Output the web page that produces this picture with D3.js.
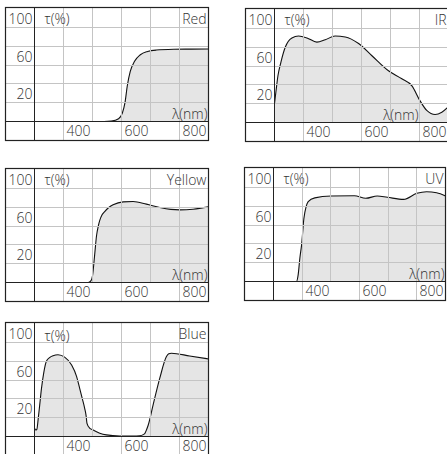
<!DOCTYPE html>
<html>
<head>
<meta charset="utf-8">
<script src="https://cdn.jsdelivr.net/npm/d3@7"></script>
<style>
body{margin:0;background:#fff}
svg{display:block}
text{font-family:"Open Sans",sans-serif;font-size:14px;font-weight:300;fill:#333}
</style>
</head>
<body>
<svg id="chart" width="447" height="454"></svg>
<script>
'use strict';

var yTicks=[20,40,60,80,100]
  , yLabels=[20,60,100]
  , xTicks=[400,500,600,700,800]
  , xLabels=[400,600,800]

// transmission curves, wavelength (nm) / tau (%)
var redNm=[300,450,540,565,590,603,612,620,630,645,665,690,720,780,840,900]
  , redPct=[0,0,0,0.5,3,9,20,38,53,64,71,74.5,76,76.8,77,77.2]

var irNm=[300,305,312,322,337,360,383,412,446,475,509,544,590,636,693,739,774,802,825,854,877,900]
  , irPct=[20,33,50,64,80,90,92,90,85.5,88,92,91,84,71,55,46.5,39,23,12.8,8.5,11,17]

var yellowNm=[300,470,485,495,500,507,514,520,525,533,542,555,571,606,640,686,732,770,801,847,900]
  , yellowPct=[0,0,0,2,7,28,50,60,66,72,75.5,79.5,82.6,85.8,86.2,83.4,79.8,77.8,77.3,78,80.5]

var uvNm=[300,370,380,386,392,398,406,414,421,444,501,582,622,662,697,754,800,834,869,900]
  , uvPct=[0,0,0,7,25,39,67,80,85,89,91,91.3,88.5,91,89.6,87.4,93.8,95.5,94.5,91]

var blueNm=[300,304,308,313,318,324,332,341,352,364,381,404,428,445,456,465,473,478,481,490,502,525,548,594,640,663,675,681,686,692,709,732,755,763,772,835,900]
  , bluePct=[9,7,7.5,19.5,33.6,51,68,80,84,86,87,84.4,76,64,51,40,30,22,14,9,7,3.5,1.7,0.6,0.5,0.8,2,3.5,7,12,33.6,62,85,88,88.6,85.7,82.5]

var panels=[
    {name:'Red',nm:redNm,pct:redPct,left:5,top:7,w:174,lambdaAt:900}
  , {name:'IR',nm:irNm,pct:irPct,left:245,top:8,w:174,lambdaAt:800}
  , {name:'Yellow',nm:yellowNm,pct:yellowPct,left:5,top:168,w:174,lambdaAt:900}
  , {name:'UV',nm:uvNm,pct:uvPct,left:244,top:167,w:172,lambdaAt:900}
  , {name:'Blue',nm:blueNm,pct:bluePct,left:5,top:322,w:174,lambdaAt:900}
]

var svg=d3.select('#chart')
  , labelW=29
  , plotH=114
  , stripH=19
  , grid='#c4c4c4'
  , ink='#222'

panels.forEach(function(p,i){
    var g=svg.append('g').attr('transform','translate('+(p.left+0.5)+','+(p.top+0.5)+')')
      , x=d3.scaleLinear().domain([300,900]).range([labelW,labelW+p.w])
      , y=d3.scaleLinear().domain([0,100]).range([plotH,plotH-94])
      , right=labelW+p.w
      , pts=p.nm.map(function(d,j){return [d,p.pct[j]]})

    g.append('clipPath').attr('id','clip'+i)
        .append('rect')
        .attr('x',labelW).attr('y',0)
        .attr('width',p.w).attr('height',plotH);

    var plot=g.append('g').attr('clip-path','url(#clip'+i+')');

    plot.append('path')
        .datum(pts)
        .attr('fill','#e5e5e5')
        .attr('d',d3.area()
            .x(function(d){return x(d[0])})
            .y0(y(0))
            .y1(function(d){return y(d[1])})
            .curve(d3.curveMonotoneX));

    // grid
    g.selectAll('.hgrid').data(yTicks).enter()
        .append('line')
        .attr('x1',0).attr('x2',right)
        .attr('y1',function(d){return Math.round(y(d))})
        .attr('y2',function(d){return Math.round(y(d))})
        .attr('stroke',grid);
    g.selectAll('.vgrid').data(xTicks).enter()
        .append('line')
        .attr('x1',function(d){return Math.round(x(d))})
        .attr('x2',function(d){return Math.round(x(d))})
        .attr('y1',0)
        .attr('y2',function(d){return xLabels.indexOf(d)>=0?plotH+stripH:plotH})
        .attr('stroke',grid);

    plot.append('path')
        .datum(pts)
        .attr('fill','none')
        .attr('stroke','#111')
        .attr('stroke-width',1.1)
        .attr('d',d3.line()
            .x(function(d){return x(d[0])})
            .y(function(d){return y(d[1])})
            .curve(d3.curveMonotoneX));

    // frame, divider and axis
    g.append('rect')
        .attr('x',0).attr('y',0)
        .attr('width',right).attr('height',plotH+stripH)
        .attr('fill','none')
        .attr('stroke',ink)
        .attr('stroke-width',1.2);
    g.append('line')
        .attr('x1',labelW).attr('x2',labelW)
        .attr('y1',0).attr('y2',plotH+stripH)
        .attr('stroke',ink);
    g.append('line')
        .attr('x1',0).attr('x2',right)
        .attr('y1',plotH).attr('y2',plotH)
        .attr('stroke',ink);

    g.selectAll('.ylab').data(yLabels).enter()
        .append('text')
        .attr('x',labelW-2)
        .attr('y',function(d){return Math.round(y(d))-4})
        .attr('text-anchor','end')
        .text(function(d){return d});
    g.selectAll('.xlab').data(xLabels).enter()
        .append('text')
        .attr('x',function(d){return Math.round(x(d))+3})
        .attr('y',plotH+14)
        .text(function(d){return d});

    g.append('text')
        .attr('x',labelW+10)
        .attr('y',Math.round(y(100))-4+(p.name=='Blue'?2:0))
        .text('\u03c4(%)');
    g.append('text')
        .attr('x',right-2)
        .attr('y',Math.round(y(100))-4)
        .attr('text-anchor','end')
        .text(p.name);
    g.append('text')
        .attr('x',Math.round(x(p.lambdaAt))-1)
        .attr('y',plotH-3)
        .attr('text-anchor','end')
        .text('\u03bb(nm)');
});
</script>
</body>
</html>
